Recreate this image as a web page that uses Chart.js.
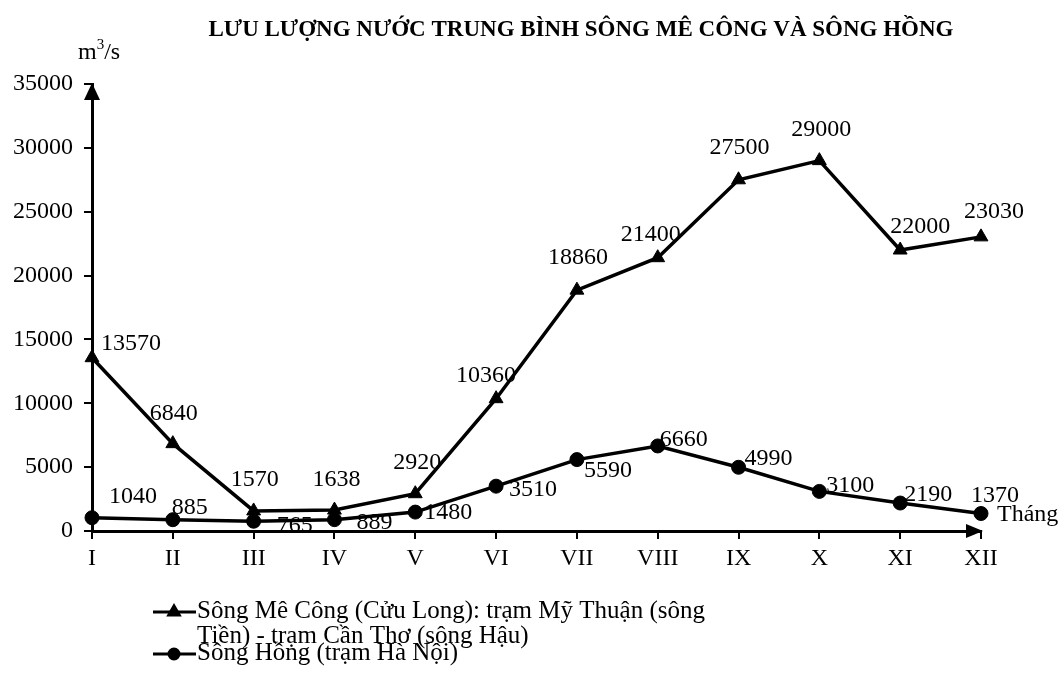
<!DOCTYPE html>
<html>
<head>
<meta charset="utf-8">
<script src="https://cdn.jsdelivr.net/npm/chart.js@4/dist/chart.umd.min.js"></script>
<style>
  html, body { margin: 0; padding: 0; background: #fff; }
  #wrap { width: 1064px; height: 673px; }
</style>
</head>
<body>
<div id="wrap"><canvas id="flowChart"></canvas></div>
<script>
  const months = ["I", "II", "III", "IV", "V", "VI", "VII", "VIII", "IX", "X", "XI", "XII"];
  const mekongFlow = [13570, 6840, 1570, 1638, 2920, 10360, 18860, 21400, 27500, 29000, 22000, 23030];
  const hongFlow = [1040, 885, 765, 889, 1480, 3510, 5590, 6660, 4990, 3100, 2190, 1370];
  const mekongName = ["Sông Mê Công (Cửu Long): trạm Mỹ Thuận (sông", "Tiền) - trạm Cần Thơ (sông Hậu)"];
  const hongName = ["Sông Hồng (trạm Hà Nội)"];
  const chartTitle = "LƯU LƯỢNG NƯỚC TRUNG BÌNH SÔNG MÊ CÔNG VÀ SÔNG HỒNG";

  const FONT = "'Liberation Serif', 'Times New Roman', serif";

  //---------------------------------------------------
  // label offsets (px) from each point, per dataset
  //---------------------------------------------------
  const labelOffsets = [
    [[39, -14], [1, -30], [1, -31], [2, -30], [2, -31], [-10, -23], [1, -32], [-7, -23], [1, -32], [2, -31], [20, -23], [13, -25]],
    [[41, -21], [17, -12], [41, 4], [40, 3], [33, 1], [37, 4], [31, 11], [26, -6], [30, -9], [31, -6], [28, -8], [14, -18]]
  ];

  const pointLabels = {
    id: "pointLabels",
    afterDatasetsDraw(chart) {
      const ctx = chart.ctx;
      ctx.save();
      ctx.font = "24px " + FONT;
      ctx.fillStyle = "#000";
      ctx.textAlign = "center";
      ctx.textBaseline = "middle";
      chart.data.datasets.forEach((ds, i) => {
        chart.getDatasetMeta(i).data.forEach((pt, j) => {
          const off = labelOffsets[i][j];
          ctx.fillText(String(ds.data[j]), pt.x + off[0], pt.y + off[1]);
        });
      });
      ctx.restore();
    }
  };

  //---------------------------------------------------
  // Title, unit, arrows, legend
  //---------------------------------------------------
  const decorations = {
    id: "decorations",
    afterDraw(chart) {
      const ctx = chart.ctx;
      const area = chart.chartArea;
      ctx.save();
      ctx.fillStyle = "#000";

      // title
      ctx.font = "bold 23px " + FONT;
      ctx.textAlign = "center";
      ctx.textBaseline = "middle";
      ctx.fillText(chartTitle, 581, 30);

      // unit m3/s
      ctx.textAlign = "left";
      ctx.textBaseline = "alphabetic";
      ctx.font = "24px " + FONT;
      ctx.fillText("m", 78, 59);
      let w = ctx.measureText("m").width;
      ctx.font = "15px " + FONT;
      ctx.fillText("3", 78 + w, 49);
      const w3 = ctx.measureText("3").width;
      ctx.font = "24px " + FONT;
      ctx.fillText("/s", 78 + w + w3, 59);

      // x label
      ctx.textBaseline = "middle";
      ctx.fillText("Tháng", 997, 515);

      // arrows
      ctx.beginPath();
      ctx.moveTo(area.left, area.top - 1);
      ctx.lineTo(area.left - 8, area.top + 16);
      ctx.lineTo(area.left + 8, area.top + 16);
      ctx.closePath();
      ctx.fill();
      ctx.beginPath();
      ctx.moveTo(area.right + 2, area.bottom);
      ctx.lineTo(area.right - 15, area.bottom - 7);
      ctx.lineTo(area.right - 15, area.bottom + 7);
      ctx.closePath();
      ctx.fill();

      // legend
      const items = [
        { lines: mekongName, style: "triangle", r: 6, y: 612 },
        { lines: hongName, style: "circle", r: 5, y: 654 }
      ];
      items.forEach((it) => {
        ctx.strokeStyle = "#000";
        ctx.lineWidth = 3;
        ctx.beginPath();
        ctx.moveTo(153, it.y);
        ctx.lineTo(196, it.y);
        ctx.stroke();
        Chart.helpers.drawPoint(ctx, { pointStyle: it.style, radius: it.r, rotation: 0, borderWidth: 1 }, 174, it.y);
        ctx.fillStyle = "#000";
        ctx.font = "25px " + FONT;
        ctx.textAlign = "left";
        ctx.textBaseline = "middle";
        it.lines.forEach((t, k) => ctx.fillText(t, 197, it.y - 1 + k * 25));
      });
      ctx.restore();
    }
  };

  const ctx = document.getElementById("flowChart");

  const chart = new Chart(ctx, {
    type: "line",
    data: {
      labels: months,
      datasets: [
        {
          label: mekongName.join(" "),
          data: mekongFlow,
          borderColor: "#000",
          backgroundColor: "#000",
          borderWidth: 3.5,
          pointStyle: "triangle",
          pointRadius: 8,
          pointBorderWidth: 1,
          tension: 0,
          clip: false,
        },
        {
          label: hongName[0],
          data: hongFlow,
          borderColor: "#000",
          backgroundColor: "#000",
          borderWidth: 3.5,
          pointStyle: "circle",
          pointRadius: 7,
          pointBorderWidth: 1,
          tension: 0,
          clip: false,
        },
      ],
    },
    options: {
      responsive: true,
      maintainAspectRatio: false,
      animation: false,
      layout: { padding: { top: 84, right: 83, left: 0, bottom: 0 } },
      plugins: {
        legend: { display: false },
        title: { display: false },
        tooltip: { enabled: false },
      },
      scales: {
        x: {
          offset: false,
          border: { display: true, color: "#000", width: 3 },
          grid: { drawOnChartArea: false, color: "#000", lineWidth: 2, tickLength: 8 },
          ticks: { color: "#000", font: { family: FONT, size: 24 }, padding: 5, autoSkip: false, maxRotation: 0 },
          afterFit(scale) { scale.height = 142; },
        },
        y: {
          min: 0,
          max: 35000,
          border: { display: true, color: "#000", width: 3 },
          grid: { drawOnChartArea: false, color: "#000", lineWidth: 2, tickLength: 8 },
          ticks: {
            stepSize: 5000,
            color: "#000",
            font: { family: FONT, size: 24 },
            padding: 11,
            callback: (v) => String(v),
          },
          afterFit(scale) { scale.width = 92; },
        },
      },
    },
    plugins: [pointLabels, decorations],
  });
</script>
</body>
</html>
